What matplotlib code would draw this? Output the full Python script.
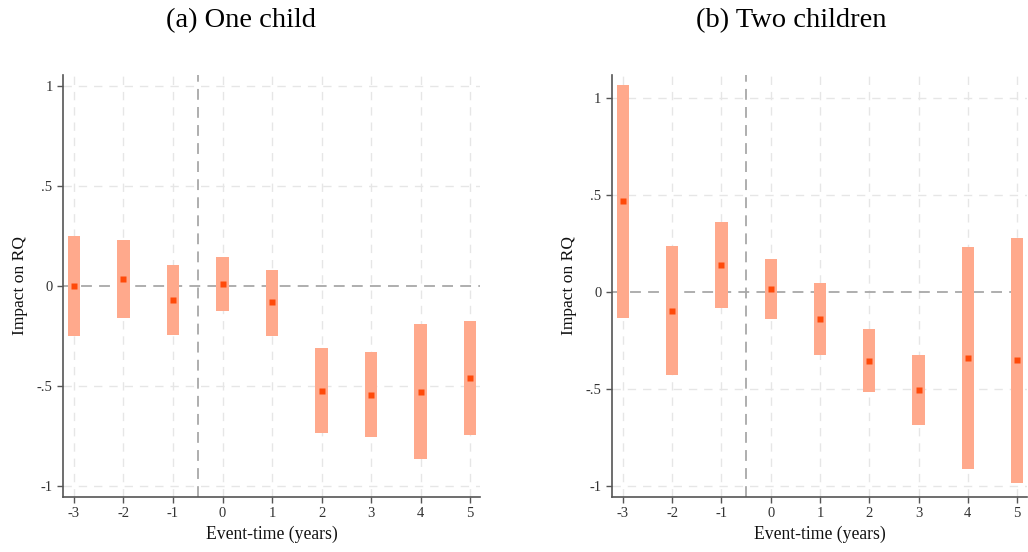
import matplotlib
matplotlib.use("Agg")
import matplotlib.pyplot as plt
import numpy as np

plt.rcParams['font.family'] = ['Liberation Serif', 'DejaVu Serif']

event_time = [-3, -2, -1, 0, 1, 2, 3, 4, 5]
xtick_labels = ["-3", "-2", "-1", "0", "1", "2", "3", "4", "5"]
ytick_vals = [-1, -0.5, 0, 0.5, 1]
ytick_labels = ["-1", "-.5", "0", ".5", "1"]

# (a) One child
one_coef = [0.00, 0.034, -0.073, 0.008, -0.08, -0.525, -0.545, -0.53, -0.462]
one_lo = [-0.25, -0.163, -0.247, -0.127, -0.25, -0.737, -0.755, -0.868, -0.748]
one_hi = [0.25, 0.23, 0.105, 0.145, 0.08, -0.313, -0.333, -0.19, -0.175]

# (b) Two children
two_coef = [0.467, -0.097, 0.137, 0.013, -0.142, -0.355, -0.508, -0.343, -0.353]
two_lo = [-0.133, -0.429, -0.085, -0.14, -0.328, -0.514, -0.687, -0.915, -0.984]
two_hi = [1.071, 0.239, 0.363, 0.17, 0.048, -0.191, -0.326, 0.233, 0.281]

titles = ["(a) One child", "(b) Two children"]

fig = plt.figure(figsize=(10.28, 5.52), dpi=100)
ax1 = fig.add_axes([0.0613, 0.1002, 0.4057, 0.7639])
ax2 = fig.add_axes([0.5953, 0.1002, 0.4037, 0.7639])

bar_color = '#FFA98C'
pt_color = '#FF4A0A'

for ax, coef, lo, hi, ylim in [
    (ax1, one_coef, one_lo, one_hi, (-1.055, 1.053)),
    (ax2, two_coef, two_lo, two_hi, (-1.057, 1.12)),
]:
    x = np.array(event_time)
    lo = np.array(lo); hi = np.array(hi)
    ax.set_xlim(-3.22, 5.2)
    ax.set_ylim(*ylim)
    ax.set_xticks(event_time)
    ax.set_xticklabels(xtick_labels)
    ax.set_yticks(ytick_vals)
    ax.set_yticklabels(ytick_labels)
    for xv in event_time:
        ax.axvline(xv, color='#E6E6E6', lw=1.0, ls=(0, (6, 5)), zorder=0)
    for yv in ytick_vals:
        if yv != 0:
            ax.axhline(yv, color='#E6E6E6', lw=1.0, ls=(0, (6, 5)), zorder=0)
    ax.axhline(0, color='#A8A8A8', lw=1.3, ls=(0, (6, 4)), zorder=1)
    ax.axvline(-0.5, color='#A8A8A8', lw=1.3, ls=(0, (6, 4)), zorder=1)
    ax.bar(x, hi - lo, bottom=lo, width=0.25, color=bar_color, edgecolor='none', zorder=2)
    ax.plot(x, coef, 's', color=pt_color, ms=4.2, mec='none', zorder=3)
    for s in ['top', 'right']:
        ax.spines[s].set_visible(False)
    for s in ['left', 'bottom']:
        ax.spines[s].set_color('#555555')
        ax.spines[s].set_linewidth(1.2)
    ax.tick_params(axis='both', colors='#333333', labelsize=10.5, length=4, width=1, direction='out', color='#555555')
    ax.set_ylabel('Impact on RQ', fontsize=12.6, color='#111111', labelpad=6)
    ax.set_xlabel('Event-time (years)', fontsize=12.7, color='#111111', labelpad=4)

fig.text(241 / 1028, 1 - 27 / 552, titles[0], fontsize=20.5, ha='center', va='baseline', color='black')
fig.text(791 / 1028, 1 - 27 / 552, titles[1], fontsize=20.5, ha='center', va='baseline', color='black')

fig.savefig('out.png', dpi=100)
